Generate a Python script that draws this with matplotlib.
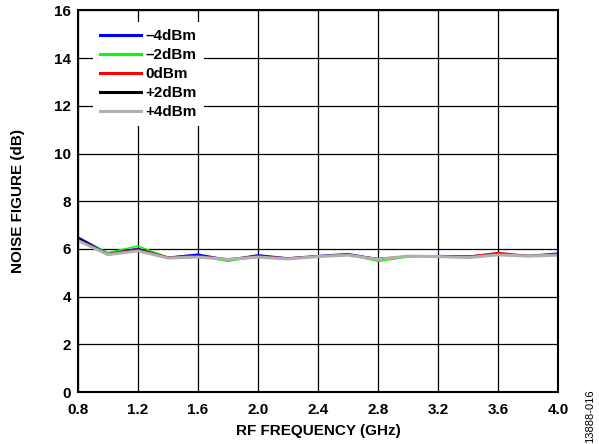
# noise figure vs RF frequency at several LO drive levels

import numpy as np
import matplotlib.pyplot as plt

plt.rcParams['font.family'] = ['Liberation Sans', 'DejaVu Sans']
plt.rcParams['font.weight'] = 'bold'

freq = [0.8, 1.0, 1.2, 1.4, 1.6, 1.8, 2.0, 2.2, 2.4, 2.6, 2.8, 3.0, 3.2, 3.4, 3.6, 3.8, 4.0]

nf_m4 = [6.50, 5.82, 6.02, 5.65, 5.78, 5.55, 5.75, 5.62, 5.72, 5.80, 5.58, 5.68, 5.72, 5.70, 5.80, 5.72, 5.82]
nf_m2 = [6.40, 5.85, 6.12, 5.65, 5.70, 5.48, 5.68, 5.60, 5.70, 5.76, 5.48, 5.66, 5.70, 5.64, 5.76, 5.72, 5.76]
nf_0 = [6.42, 5.80, 6.00, 5.66, 5.72, 5.58, 5.70, 5.62, 5.70, 5.77, 5.60, 5.70, 5.70, 5.68, 5.85, 5.72, 5.76]
nf_p2 = [6.45, 5.78, 5.98, 5.64, 5.70, 5.56, 5.69, 5.60, 5.70, 5.76, 5.58, 5.69, 5.70, 5.66, 5.78, 5.71, 5.76]
nf_p4 = [6.35, 5.76, 5.92, 5.62, 5.66, 5.56, 5.66, 5.58, 5.68, 5.74, 5.56, 5.70, 5.68, 5.64, 5.75, 5.70, 5.74]

labels = ['\u20134dBm', '\u20132dBm', '0dBm', '+2dBm', '+4dBm']
colors = ['#0000ff', '#00ff00', '#ff0000', '#000000', '#b0b0b0']
widths = [1.1, 1.1, 1.1, 1.1, 2.2]

W, H = 599, 444
fig = plt.figure(figsize=(W / 100, H / 100), dpi=100)
ax = fig.add_axes([78 / W, 1 - 392 / H, 480 / W, 381.5 / H])

for y, lab, c, w in zip([nf_m4, nf_m2, nf_0, nf_p2, nf_p4], labels, colors, widths):
    ax.plot(freq, y, color=c, lw=w, label=lab)

xt = np.arange(0.8, 4.01, 0.4)
ax.set_xlim(0.8, 4.0)
ax.set_ylim(0, 16)
ax.set_xticks(xt)
ax.set_xticklabels([f'{v:.1f}' for v in xt])
ax.set_yticks(np.arange(0, 17, 2))
ax.tick_params(length=0, labelsize=11)
ax.tick_params(axis='x', pad=8)
ax.tick_params(axis='y', pad=5)
ax.grid(True, color='black', lw=0.9)
for s in ax.spines.values():
    s.set_linewidth(1.5)

ax.set_xlabel('RF FREQUENCY (GHz)', fontsize=11, fontweight='bold', labelpad=5)
ax.set_ylabel('NOISE FIGURE (dB)', fontsize=11, fontweight='bold', labelpad=21)

leg = ax.legend(loc='upper left', bbox_to_anchor=((93 - 78) / 480, 1 - (22 - 10.5) / 381.5),
                borderaxespad=0, frameon=True, fontsize=11, handlelength=2.7,
                borderpad=0.45, labelspacing=0.33, handletextpad=0.3, fancybox=False)
leg.get_frame().set_edgecolor('none')
leg.get_frame().set_alpha(1)
for line in leg.get_lines():
    line.set_linewidth(2.2)

fig.text(590 / W, 1 - 443 / H, '13888-016', rotation=90, fontsize=8,
         fontweight='normal', ha='center', va='bottom')

plt.savefig('out.png', dpi=100)
